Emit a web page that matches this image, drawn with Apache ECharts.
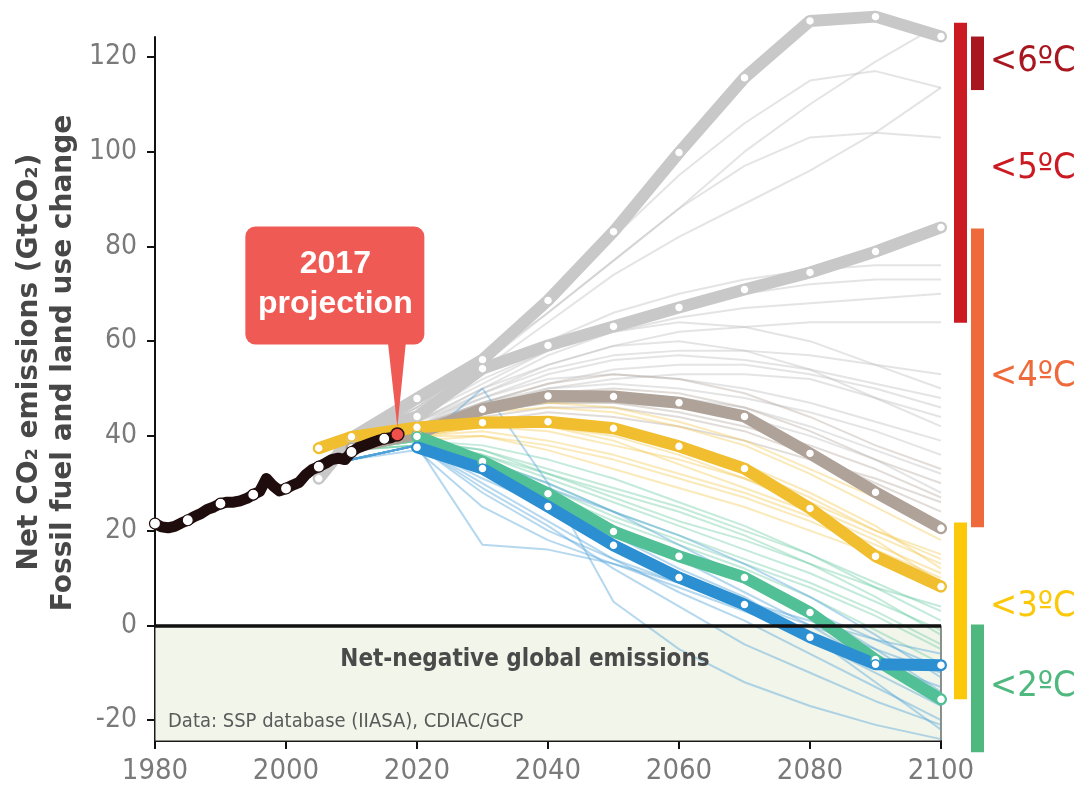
<!DOCTYPE html>
<html><head><meta charset="utf-8">
<script src="https://cdn.jsdelivr.net/npm/echarts/dist/echarts.min.js"></script>
<style>html,body{margin:0;padding:0;background:#fff}#c{width:1084px;height:788px}</style>
</head><body><div id="c"></div>
<script>
// ---------------- DATA ----------------
const histYears = [1980,1981,1982,1983,1984,1985,1986,1987,1988,1989,1990,1991,1992,1993,1994,1995,1996,1997,1998,1999,2000,2001,2002,2003,2004,2005,2006,2007,2008,2009,2010,2011,2012,2013,2014,2015,2016,2017];
const histValues = [21.5,20.8,20.6,20.9,21.6,22.2,23.0,23.6,24.5,25.0,25.7,26.0,26.0,26.3,26.8,27.6,28.3,31.0,29.5,28.4,28.9,29.6,30.2,31.8,32.9,33.5,34.2,35.0,35.3,35.0,36.6,37.5,38.0,38.5,39.0,39.4,39.6,40.3];
const histMarkerYears = [1980,1985,1990,1995,2000,2005,2010,2015];

const projYears = [2005,2010,2020,2030,2040,2050,2060,2070,2080,2090,2100];
const thickGrayHigh = [31.0,39.6,47.9,56.1,68.6,83.1,99.8,115.6,127.6,128.5,124.3];
const thickGrayMid  = [31.0,39.6,44.1,54.2,59.1,63.1,67.1,70.9,74.5,78.9,84.0];
const thickBrown    = [null,37.5,40.5,45.6,48.4,48.3,47.0,44.1,36.3,28.1,20.5];
const thickYellow   = [37.4,39.8,41.8,42.8,43.0,41.6,37.8,33.1,24.7,14.6,8.2];
const thickGreen    = [null,null,39.9,34.6,27.8,19.8,14.6,10.1,2.7,-7.2,-15.6];
const thickBlue     = [null,null,37.6,33.1,25.1,16.9,10.1,4.4,-2.5,-8.2,-8.4];

const thinYears = [2010,2020,2030,2040,2050,2060,2070,2080,2090,2100];
const thinGray = [
  [39,46,56,66,77,88,100,110,119,127],
  [39,46,56,68,82,95,106,115,117,113.5],
  [39,46,55,66,77,88,97,103,104,103],
  [39,45,54,64,74,82,89,96,104,113.5],
  [39,45,53,60,66,70,73,75,76,76],
  [38,44,51,58,63,67,70,72,73,73],
  [38,44,52,58,62,65,67,68,69,70],
  [38,43,50,55,59,62,63,64,64,64],
  [38,43,49,54,57,58,58,57,55,53],
  [38,43,48,53,56,57,56,54,51,48],
  [38,42,47,51,54,55,55,53,50,46],
  [38,42,48,52,53,52,50,47,43,39],
  [38,42,47,50,51,50,48,45,41,36],
  [38,41,46,49,49,48,46,42,37,32],
  [38,42,49,55,59,60,58,54,48,42],
  [38,43,50,57,62,64,63,60,55,50],
  [38,41,45,47,47,46,44,40,35,28],
  [38,42,46,50,52,53,53,52,48,44]
];
const thinBrown = [
  [38,41,45,47,47,45,42,38,33,27],
  [38,41,44,46,46,44,41,36,30,24],
  [38,41,46,49,50,49,46,41,35,30],
  [38,40,43,45,44,42,39,35,31,26],
  [38,42,47,51,53,52,49,44,38,33]
];
const thinYellow = [
  [37,41,45,46,45,42,38,32,25,18],
  [37,40,43,43,41,38,33,27,20,14],
  [37,40,42,41,38,35,31,26,20,15],
  [37,41,44,44,42,38,34,28,21,12],
  [37,40,41,39,36,32,28,23,17,11],
  [37,40,42,42,40,36,31,25,19,13],
  [37,39,40,38,35,31,27,22,16,10],
  [37,41,43,42,39,34,29,24,18,9],
  [37,40,40,37,33,29,25,20,15,7],
  [37,41,46,47,46,43,39,33,27,21]
];
const thinGreen = [
  [37,39,37,33,29,25,20,15,9,3],
  [37,39,36,31,26,21,16,11,5,-1],
  [37,39,38,35,31,26,21,15,8,1],
  [37,38,35,30,24,19,14,9,3,-4],
  [37,39,37,32,27,22,18,13,8,4],
  [37,38,34,28,22,17,12,6,-1,-8],
  [37,39,36,32,28,24,19,13,6,-2],
  [37,38,35,29,23,18,13,8,2,-5]
];
const thinBlue = [
  [35,38,17,16,13,9,5,0,-5,-10],
  [35,38,50,30,5,-5,-12,-17,-21,-24],
  [35,38,33,26,18,11,4,-3,-10,-17],
  [35,38,30,22,14,7,1,-6,-13,-20],
  [35,38,32,27,21,15,9,3,-3,-9],
  [35,38,28,20,14,9,5,1,-3,-6],
  [35,38,31,25,19,12,6,-2,-12,-22],
  [35,38,35,30,24,17,10,3,-5,-14],
  [35,37,25,18,13,8,3,-2,-8,-13],
  [35,38,34,28,21,14,7,0,-8,-16],
  [35,38,29,21,12,4,-4,-10,-16,-21],
  [35,38,33,29,24,19,13,6,-2,-11]
];

const tempLabels = ['<6ºC','<5ºC','<4ºC','<3ºC','<2ºC'];
const tempLabelY = [119,96.5,52.5,4,-13];
const tempBarLow  = [113,63.9,20.7,-15.6,-26.8];
const tempBarHigh = [124.3,127.2,83.8,21.7,0.2];
const tempBarCol  = [1,0,1,0,1];
const tempColors = ['#a8171f','#cc1a22','#ef6a3b','#fbc80a','#4fb87e'];

const xTicks = [1980,2000,2020,2040,2060,2080,2100];
const yTicks = [-20,0,20,40,60,80,100,120];
const yMin = -24.4, yMax = 124.2;

// ---------------- CHART ----------------
const NARROW = "'Liberation Sans Narrow','DejaVu Sans Condensed','Arial Narrow',sans-serif";
const chart = echarts.init(document.getElementById('c'), null, {renderer:'canvas'});
const pairs = (xs, ys) => xs.map((x,i)=>[x, ys[i]]).filter(p=>p[1]!=null);

const series = [];
series.push({
  type:'line', data:[], z:1, silent:true,
  markArea:{silent:true, itemStyle:{color:'#f1f5ea', borderColor:'#222', borderWidth:1},
    data:[[{xAxis:1980, yAxis:0},{xAxis:2100, yAxis:yMin}]]}
});
function thin(arr, color, op){
  arr.forEach(v=>series.push({type:'line', data:pairs(thinYears, v), symbol:'none', silent:true, z:2,
    lineStyle:{color, width:2, opacity:op}}));
}
thin(thinGray,'#c4c4c4',0.45);
thin(thinBrown,'#b4a79e',0.4);
thin(thinYellow,'#f2c646',0.38);
thin(thinGreen,'#62c7a0',0.38);
thin(thinBlue,'#4ea3da',0.42);

function thick(arr, color, clip){
  series.push({type:'line', data:pairs(projYears, arr), symbol:'circle', symbolSize:9, showAllSymbol:true,
    clip: clip, z:3, silent:true,
    lineStyle:{color, width:12, cap:'round', join:'round'},
    itemStyle:{color:'#fff', borderColor:color, borderWidth:1.5}});
}
thick(thickGrayHigh,'#c8c8c8',false);
thick(thickGrayMid,'#c8c8c8',true);
thick(thickBrown,'#afa299',true);
thick(thickYellow,'#f0be2e',true);
thick(thickGreen,'#52c096',true);
thick(thickBlue,'#2b8fd2',true);

series.push({type:'line', data:[], z:4, silent:true,
  markLine:{silent:true, symbol:['none','none'], label:{show:false},
    lineStyle:{color:'#111', width:3.5, type:'solid'}, data:[{yAxis:0}]}});

series.push({type:'line', z:5, silent:true, showAllSymbol:true,
  lineStyle:{color:'#1f0d0d', width:11, join:'round', cap:'round'},
  data: histYears.map((y,i)=>{
    const last = i===histYears.length-1;
    const mk = histMarkerYears.includes(y);
    return {value:[y, histValues[i]],
      symbol: last||mk ? 'circle':'none',
      symbolSize: last ? 13 : 11,
      itemStyle: last ? {color:'#f0504a', borderColor:'#2a1010', borderWidth:1.5}
                      : {color:'#fff', borderColor:'#1f0d0d', borderWidth:1.2}};
  })});

series.push({type:'custom', clip:false, z:6, silent:true,
  data: tempBarLow.map((lo,i)=>[lo, tempBarHigh[i], tempBarCol[i]]),
  encode:{x:-1, y:[0,1]},
  renderItem:(params, api)=>{
    const lo=api.value(0), hi=api.value(1), col=api.value(2);
    const p1=api.coord([2100, hi]), p0=api.coord([2100, lo]);
    return {type:'rect', shape:{x:p1[0]+13+col*17, y:p1[1], width:13, height:p0[1]-p1[1]},
      style:{fill:tempColors[params.dataIndex]}};
  }});
series.push({type:'custom', clip:false, z:6, silent:true,
  data: tempLabelY.map(v=>[v]),
  encode:{x:-1, y:0},
  renderItem:(params, api)=>{
    const p=api.coord([2100, api.value(0)]);
    return {type:'text', x:p[0]+49, y:p[1],
      style:{text:tempLabels[params.dataIndex], fill:tempColors[params.dataIndex],
        font:'36px '+NARROW, verticalAlign:'middle', align:'left'}};
  }});

const option = {
  animation:false,
  backgroundColor:'#fff',
  grid:{left:155, right:143, top:37, bottom:47, containLabel:false, outerBoundsMode:'none'},
  xAxis:{type:'value', min:1980, max:2100,
    axisLine:{show:true, onZero:false, lineStyle:{color:'#111', width:2}},
    axisTick:{show:true, inside:false, length:8, lineStyle:{color:'#111', width:2}, customValues:xTicks},
    axisLabel:{customValues:xTicks, fontSize:29, fontFamily:NARROW, color:'#7a7a7a', margin:16,
      formatter:v=>String(v)},
    splitLine:{show:false}},
  yAxis:{type:'value', min:yMin, max:yMax,
    axisLine:{show:true, onZero:false, lineStyle:{color:'#111', width:2}},
    axisTick:{show:true, length:8, lineStyle:{color:'#111', width:2}, customValues:yTicks},
    axisLabel:{customValues:yTicks, fontSize:28, fontFamily:NARROW, color:'#7a7a7a', margin:18},
    splitLine:{show:false}},
  series
};
chart.setOption(option);

const tip = chart.convertToPixel({gridIndex:0}, [2017, histValues[histValues.length-1]]);
const tx = tip[0], ty = tip[1]-7;
chart.setOption({graphic:[
  {type:'text', x:30, y:362, rotation:Math.PI/2,
    style:{text:'Net CO₂ emissions (GtCO₂)', font:'bold 28px "DejaVu Sans",sans-serif', fill:'#474747', align:'center', verticalAlign:'middle'}},
  {type:'text', x:64, y:363, rotation:Math.PI/2,
    style:{text:'Fossil fuel and land use change', font:'bold 28px "DejaVu Sans",sans-serif', fill:'#474747', align:'center', verticalAlign:'middle'}},
  {type:'polygon', shape:{points:[[tx-10,ty-90],[tx+9,ty-90],[tx,ty]]}, style:{fill:'#f05a55'}, z:10},
  {type:'rect', shape:{x:tx-152, y:ty-201, width:179, height:118, r:10}, style:{fill:'#f05a55'}, z:10},
  {type:'text', x:tx-62, y:ty-163, z:11,
    style:{text:'2017', font:'bold 32px "Liberation Sans",sans-serif', fill:'#fff', align:'center', verticalAlign:'middle'}},
  {type:'text', x:tx-62, y:ty-123, z:11,
    style:{text:'projection', font:'bold 32px "Liberation Sans",sans-serif', fill:'#fff', align:'center', verticalAlign:'middle'}},
  {type:'text', x:525, y:660, z:11,
    style:{text:'Net-negative global emissions', font:'bold 24px '+NARROW, fill:'#4a4a4a', align:'center', verticalAlign:'middle'}},
  {type:'text', x:168, y:722, z:11,
    style:{text:'Data: SSP database (IIASA), CDIAC/GCP', font:'20px '+NARROW, fill:'#5a5a5a', align:'left', verticalAlign:'middle'}}
]});
</script></body></html>
